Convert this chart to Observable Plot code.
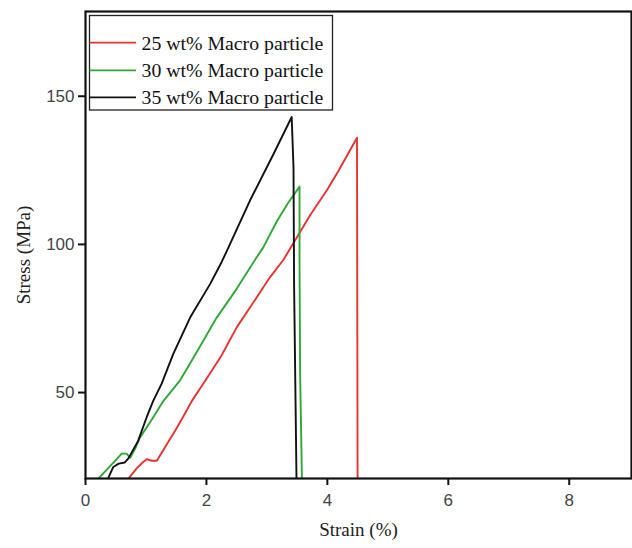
<!DOCTYPE html>
<html>
<head>
<meta charset="utf-8">
<script src="https://cdn.jsdelivr.net/npm/d3@7"></script>
<script src="https://cdn.jsdelivr.net/npm/@observablehq/plot@0.6"></script>
<style>
  html, body { margin: 0; padding: 0; background: #fff; }
  #chart svg { display: block; }
</style>
</head>
<body>
<div id="chart"></div>
<script>
const seriesNames = ["25 wt% Macro particle", "30 wt% Macro particle", "35 wt% Macro particle"];
const seriesColors = ["#e8332e", "#2ea836", "#111111"];

const red25 = [[0.67,20],[0.75,22],[0.85,24.5],[0.95,26.5],[1.01,27.5],[1.10,27],[1.18,27],[1.30,31],[1.48,37],[1.62,42],[1.76,47.2],[1.98,54],[2.25,62.5],[2.50,72],[2.72,78.7],[3.05,88.9],[3.28,95],[3.44,100.5],[3.72,110],[4.00,118.5],[4.19,125],[4.49,136],[4.50,20]];
const green30 = [[0.19,20.5],[0.40,25],[0.60,29.4],[0.68,29.4],[0.74,28],[0.82,31],[0.90,34.8],[1.10,41],[1.29,47.2],[1.56,54],[1.85,64],[2.17,75.3],[2.50,85],[2.81,95],[2.94,99],[3.17,108],[3.35,114],[3.54,119.5],[3.54,92],[3.55,56],[3.58,20]];
const black35 = [[0.35,20],[0.46,24.9],[0.55,26],[0.65,26.4],[0.71,27.8],[0.87,33.7],[1.01,41.6],[1.12,47.2],[1.26,53],[1.45,63],[1.73,75.3],[2.06,86.6],[2.25,94],[2.34,97.9],[2.72,114.8],[3.11,130.5],[3.41,143],[3.44,126],[3.45,86],[3.49,20]];

const xTicks = [0, 2, 4, 6, 8];
const yTicks = [50, 100, 150];

const allSeries = [red25, green30, black35];
const rows = allSeries.flatMap((s, i) => s.map(([x, y], j) => ({series: seriesNames[i], x, y, j})));

const W = 632, H = 548;
const chart = Plot.plot({
  width: W,
  height: H,
  marginLeft: 85,
  marginRight: 1,
  marginTop: 11,
  marginBottom: 70,
  x: {domain: [0, 9.03]},
  y: {domain: [21, 178.6]},
  color: {domain: seriesNames, range: seriesColors},
  style: {background: "#fff"},
  marks: [
    Plot.line(rows, {x: "x", y: "y", z: "series", stroke: "series", strokeWidth: 1.9, clip: true, curve: "linear"}),
    Plot.frame({stroke: "#111", strokeWidth: 2.2}),
    Plot.axisX({ticks: xTicks, tickSize: 7, tickPadding: 8, tickFormat: d3.format("d"), label: null,
      fontFamily: "Liberation Sans, Arial, sans-serif", fontSize: 17, stroke: "#111", strokeWidth: 2, color: "#444"}),
    Plot.axisY({ticks: yTicks, tickSize: 7, tickPadding: 4, tickFormat: d3.format("d"), label: null,
      fontFamily: "Liberation Sans, Arial, sans-serif", fontSize: 17, stroke: "#111", strokeWidth: 2, color: "#444"}),
    Plot.text(["Strain (%)"], {frameAnchor: "bottom", dy: 57, textAnchor: "middle", fontFamily: "Liberation Serif, Times New Roman, serif", fontSize: 19, fill: "#222"}),
    Plot.text(["Stress (MPa)"], {frameAnchor: "left", dx: -62, dy: 10, rotate: -90, textAnchor: "middle", fontFamily: "Liberation Serif, Times New Roman, serif", fontSize: 19, fill: "#222"})
  ]
});
document.getElementById("chart").appendChild(chart);

// Legend inside the plot (top-left)
const svg = d3.select(chart);
const lg = svg.append("g").attr("class", "legend").attr("text-anchor", "start");
lg.append("rect").attr("x", 89.5).attr("y", 15.5).attr("width", 243).attr("height", 94.5)
  .attr("fill", "#fff").attr("stroke", "#222").attr("stroke-width", 1.3);
const rowY = [42.7, 70.3, 97.3];
seriesNames.forEach((name, i) => {
  lg.append("line").attr("x1", 89.5).attr("x2", 136).attr("y1", rowY[i]).attr("y2", rowY[i])
    .attr("stroke", seriesColors[i]).attr("stroke-width", 1.8);
  lg.append("text").attr("x", 141.5).attr("y", rowY[i]).attr("dy", "0.35em")
    .attr("text-anchor", "start")
    .attr("font-family", "Liberation Serif, Times New Roman, serif").attr("font-size", 19.8)
    .attr("fill", "#111").text(name);
});
</script>
</body>
</html>
